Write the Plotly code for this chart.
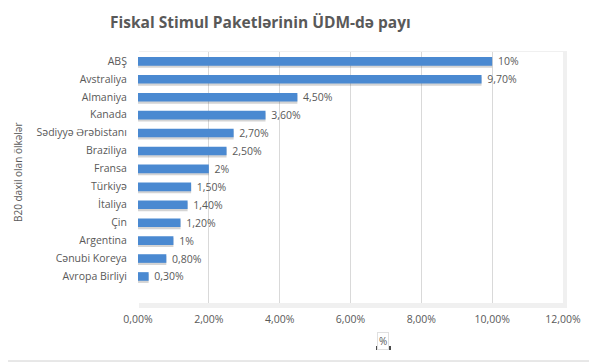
import plotly.graph_objects as go

countries = ["ABŞ", "Avstraliya", "Almaniya", "Kanada", "Sədiyyə Ərəbistanı", "Braziliya",
             "Fransa", "Türkiyə", "İtaliya", "Çin", "Argentina", "Cənubi Koreya", "Avropa Birliyi"]
values = [0.10, 0.097, 0.045, 0.036, 0.027, 0.025, 0.02, 0.015, 0.014, 0.012, 0.01, 0.008, 0.003]
value_labels = ["10%", "9,70%", "4,50%", "3,60%", "2,70%", "2,50%", "2%", "1,50%", "1,40%",
                "1,20%", "1%", "0,80%", "0,30%"]
x_ticks = [0, 0.02, 0.04, 0.06, 0.08, 0.10, 0.12]

title = "Fiskal Stimul Paketlərinin ÜDM-də payı"
y_title = "B20 daxil olan ölkələr"
x_title = "%"

FONT = "Open Sans"
GREY = "#595959"

# page body has an 8px margin; work in reference pixels and shift
OFF = 8
W, H = 597 - OFF, 363 - OFF
L, R, T, B = 138 - OFF, 597 - 563, 52 - OFF, 363 - 303
pw, ph = W - L - R, H - T - B
def px_x(x):
    return (x - OFF - L) / pw
def px_y(y):
    return (H - B - (y - OFF)) / ph

fig = go.Figure()
# soft shadow under bars
fig.add_trace(go.Bar(
    y=countries, x=values, orientation="h", width=0.5,
    marker=dict(color="rgba(60,60,60,0.22)", line=dict(width=0)),
    offset=-0.12, hoverinfo="skip", showlegend=False,
))
fig.add_trace(go.Bar(
    y=countries, x=values, orientation="h", width=0.48,
    offset=-0.22,
    marker=dict(color="#4A89D1", line=dict(width=0)),
    text=["\u00a0" + s for s in value_labels], textposition="outside", cliponaxis=False,
    constraintext="none",
    textfont=dict(family=FONT, size=10.5, color=GREY),
    showlegend=False,
))

fig.update_layout(
    width=W, height=H,
    margin=dict(l=L, r=R, t=T, b=B, autoexpand=False),
    paper_bgcolor="white", plot_bgcolor="white",
    separators=", ",
    barmode="overlay",
    font=dict(family=FONT, color=GREY, size=10.5),
    showlegend=False,
    xaxis=dict(range=[0, 0.12], tickvals=x_ticks, tickformat=".2%",
               showgrid=True, gridcolor="#d9d9d9", gridwidth=1, zeroline=False,
               showline=False, ticks="outside", ticklen=6, tickcolor="rgba(0,0,0,0)",
               automargin=False, tickfont=dict(size=10.5, color=GREY)),
    yaxis=dict(categoryorder="array", categoryarray=countries,
               range=[13.5, -0.5], showgrid=False, zeroline=False, showline=False,
               ticks="outside", ticklen=8, tickcolor="rgba(0,0,0,0)", automargin=False,
               tickfont=dict(size=10.5, color=GREY)),
    annotations=[
        dict(text="<b>" + title + "</b>", x=px_x(260), y=px_y(22), xref="paper", yref="paper",
             xanchor="center", yanchor="middle",
             showarrow=False, font=dict(size=15.5, color=GREY, family=FONT)),
        dict(text=y_title, x=px_x(18), y=px_y(172), xref="paper", yref="paper", showarrow=False,
             xanchor="center", yanchor="middle",
             textangle=-90, font=dict(size=10, color=GREY, family=FONT)),
        dict(text=x_title, x=px_x(383), y=px_y(341), xref="paper", yref="paper", showarrow=False,
             xanchor="center", yanchor="middle", bgcolor="white",
             bordercolor="#e0e0e0", borderwidth=1, borderpad=1,
             font=dict(size=10, color=GREY, family=FONT)),
    ],
)

# outer border (right and bottom edges of the reference frame)
fig.add_shape(type="line", xref="paper", yref="paper",
              x0=px_x(596), x1=px_x(596), y0=px_y(8), y1=px_y(361),
              line=dict(color="#d0d0d0", width=1), layer="below")
fig.add_shape(type="line", xref="paper", yref="paper",
              x0=px_x(8), x1=px_x(596), y0=px_y(361), y1=px_y(361),
              line=dict(color="#d0d0d0", width=1), layer="below")
# plot area shadow
fig.add_shape(type="rect", xref="paper", yref="paper",
              x0=px_x(139), x1=px_x(567), y0=px_y(51), y1=px_y(308),
              line=dict(width=0), fillcolor="rgba(0,0,0,0.06)", layer="below")
fig.add_shape(type="rect", xref="paper", yref="paper",
              x0=0, x1=1, y0=0, y1=1,
              line=dict(width=0), fillcolor="white", layer="below")
# shadow under "%" box
fig.add_shape(type="rect", xref="paper", yref="paper",
              x0=px_x(376), x1=px_x(391), y0=px_y(346), y1=px_y(350),
              line=dict(width=0), fillcolor="rgba(0,0,0,0.7)", layer="below")

fig.write_html("out.html")
